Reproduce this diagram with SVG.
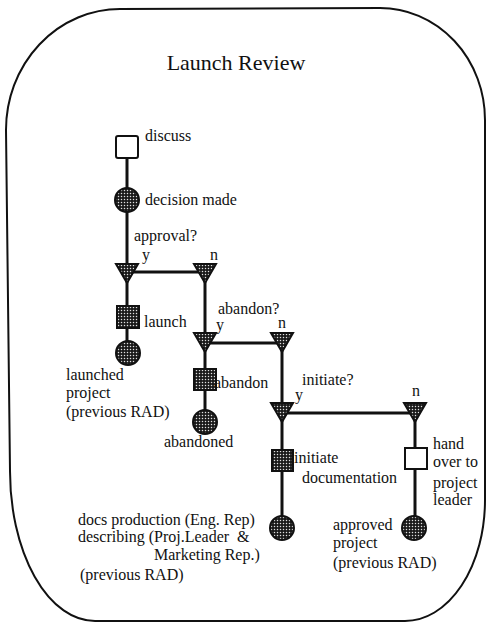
<svg xmlns="http://www.w3.org/2000/svg" width="487" height="623" viewBox="0 0 487 623">
<defs>
<pattern id="dots" width="3" height="3" patternUnits="userSpaceOnUse">
<rect width="3" height="3" fill="#1a1a1a"/>
<circle cx="1.5" cy="1.5" r="0.75" fill="#e0e0e0"/>
</pattern>
<style>
text{font-family:"Liberation Serif","Times New Roman",serif;font-size:16px;fill:#111}
.title{font-size:22px}
.line{stroke:#111;stroke-width:3;fill:none}
.dark{fill:url(#dots);stroke:#111;stroke-width:2}
.open{fill:#fff;stroke:#111;stroke-width:2}
.pre{white-space:pre}
</style>
</defs>
<rect width="487" height="623" fill="#fff"/>
<path d="M120,9 L380,8 A105,112 0 0 1 485,120 L485,500 A80,121 0 0 1 405,621 L95,621 A85,150 0 0 1 10,470 L6,130 A114,121 0 0 1 120,9 Z" fill="none" stroke="#111" stroke-width="2"/>
<text class="title" x="236" y="70" text-anchor="middle">Launch Review</text>
<g id="connectors">
<line class="line" x1="127" y1="150" x2="127" y2="352"/>
<line class="line" x1="127" y1="272" x2="205" y2="272"/>
<line class="line" x1="205" y1="272" x2="205" y2="422"/>
<line class="line" x1="205" y1="343" x2="282" y2="343"/>
<line class="line" x1="282" y1="343" x2="282" y2="528"/>
<line class="line" x1="282" y1="413" x2="415" y2="413"/>
<line class="line" x1="415" y1="413" x2="415" y2="528"/>
</g>
<g id="discuss">
<rect class="open" x="116" y="136" width="22" height="22" rx="2"/>
<text x="145" y="141">discuss</text>
</g>
<g id="decision-made">
<circle class="dark" cx="127" cy="200" r="12"/>
<text x="145" y="205">decision made</text>
</g>
<g id="approval">
<polygon class="dark" points="116,264 138,264 127,283"/>
<text x="134" y="241">approval?</text>
<text x="142" y="260">y</text>
</g>
<g id="approval-n">
<polygon class="dark" points="194,264 216,264 205,283"/>
<text x="210" y="260">n</text>
</g>
<g id="launch">
<rect class="dark" x="117" y="306" width="22" height="22"/>
<text x="144" y="327">launch</text>
</g>
<g id="launched-project">
<circle class="dark" cx="128" cy="353" r="12"/>
<text x="66" y="380">launched</text>
<text x="66" y="398">project</text>
<text x="66" y="417">(previous RAD)</text>
</g>
<g id="abandon-q">
<polygon class="dark" points="194,333 216,333 205,352"/>
<text x="218" y="314">abandon?</text>
<text x="216" y="330">y</text>
</g>
<g id="abandon-n">
<polygon class="dark" points="271,333 293,333 282,352"/>
<text x="278" y="328">n</text>
</g>
<g id="abandon">
<rect class="dark" x="194" y="369" width="22" height="21"/>
<text x="214" y="388">abandon</text>
</g>
<g id="abandoned">
<circle class="dark" cx="205" cy="422" r="12"/>
<text x="164" y="447">abandoned</text>
</g>
<g id="initiate-q">
<polygon class="dark" points="271,403 293,403 282,422"/>
<text x="302" y="385">initiate?</text>
<text x="295" y="400">y</text>
</g>
<g id="initiate-n">
<polygon class="dark" points="404,403 426,403 415,422"/>
<text x="412" y="396">n</text>
</g>
<g id="initiate-documentation">
<rect class="dark" x="272" y="450" width="21" height="21"/>
<text x="294" y="463">initiate</text>
<text x="302" y="483">documentation</text>
</g>
<g id="docs-production">
<circle class="dark" cx="282" cy="528" r="12"/>
<text x="78" y="525">docs production (Eng. Rep)</text>
<text class="pre" x="78" y="542" xml:space="preserve">describing (Proj.Leader  &amp;</text>
<text x="154" y="560">Marketing Rep.)</text>
<text x="80" y="580">(previous RAD)</text>
</g>
<g id="hand-over">
<rect class="open" x="405" y="448" width="22" height="21"/>
<text x="433" y="449">hand</text>
<text x="433" y="467">over to</text>
<text x="433" y="488">project</text>
<text x="433" y="505">leader</text>
</g>
<g id="approved-project">
<circle class="dark" cx="414" cy="528" r="12"/>
<text x="333" y="530">approved</text>
<text x="333" y="548">project</text>
<text x="333" y="568">(previous RAD)</text>
</g>
</svg>
